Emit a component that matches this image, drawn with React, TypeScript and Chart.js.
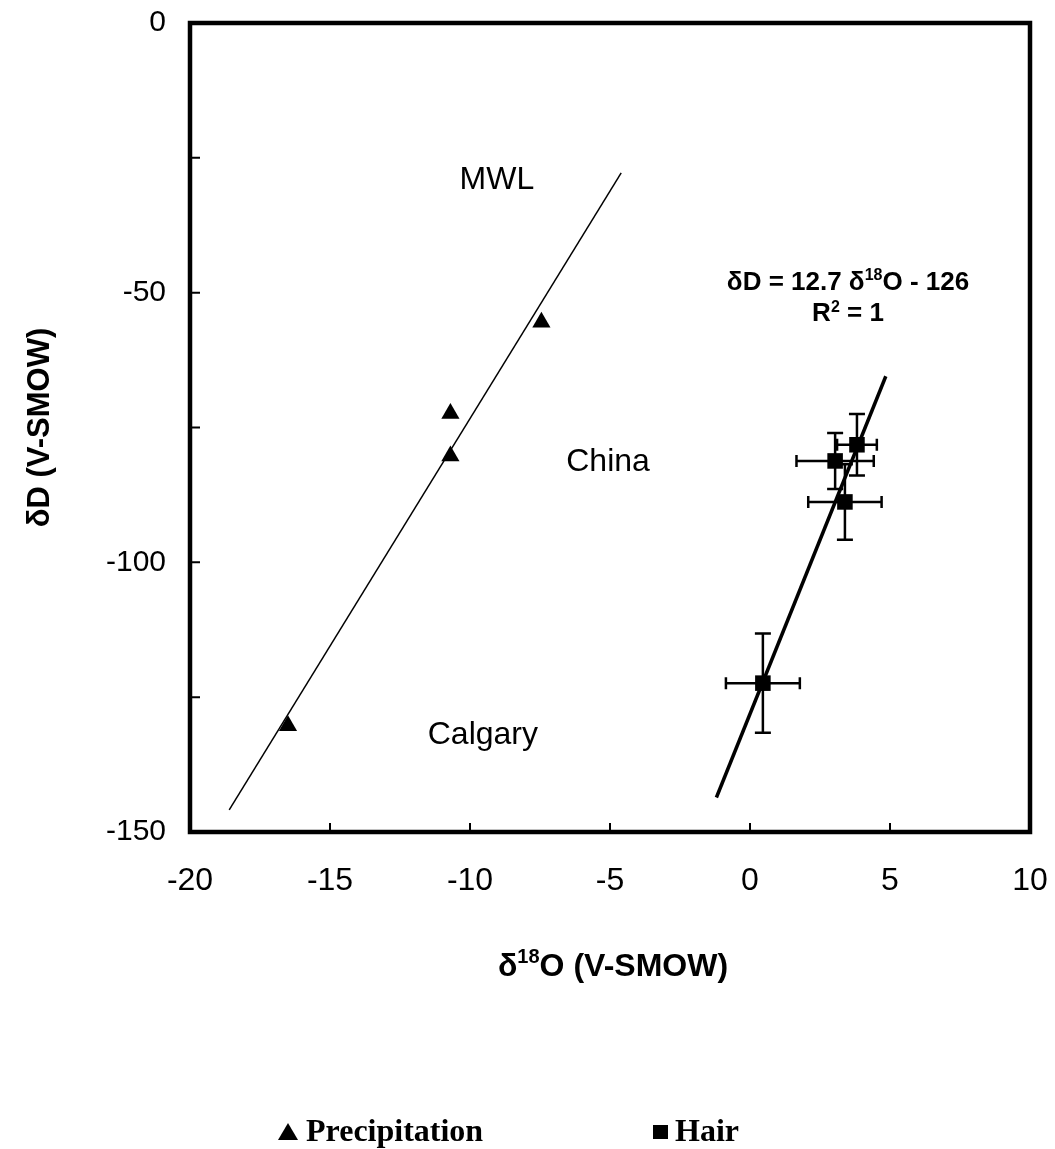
import React, { useEffect, useRef } from 'react';
import { Chart, registerables } from 'chart.js';

Chart.register(...registerables);

// ---- data ----
const precipX = [-16.5, -10.7, -10.7, -7.45];
const precipY = [-130.3, -80.3, -72.4, -55.5];

const hairX = [0.46, 3.04, 3.82, 3.39];
const hairY = [-122.4, -81.2, -78.2, -88.8];
const hairXErr = [1.32, 1.38, 0.71, 1.31];
const hairYErr = [9.2, 5.2, 5.7, 7.0];

const mwlX = [-18.6, -4.6];
const mwlY = [-145.9, -27.8];

const fitX = [-1.2, 4.85];
const fitY = [-143.6, -65.5];

const xMin = -20;
const xMax = 10;
const xStep = 5;
const yMin = -150;
const yMax = 0;
const yStep = 25;
const yLabelEvery = 50;

const seriesLabels = ['Precipitation', 'Hair'];
const yTitle = 'δD (V-SMOW)';
const xTitleParts = ['δ', '18', 'O (V-SMOW)'];
const noteTexts = ['MWL', 'China', 'Calgary'];
const noteX = [-9.04, -5.07, -9.54];
const noteY = [-29.1, -81.4, -132.0];
const eqParts = ['δD = 12.7 δ', '18', 'O - 126'];
const r2Parts = ['R', '2', ' = 1'];
const eqX = 3.5;
const eqY = [-47.7, -53.6];

const SANS = '"Liberation Sans", Arial, sans-serif';
const SERIF = '"Liberation Serif", "Times New Roman", serif';

function drawParts(ctx: CanvasRenderingContext2D, parts: string[], cx: number, cy: number, size: number, weight: string) {
  const big = `${weight} ${size}px ${SANS}`;
  const small = `${weight} ${Math.round(size * 0.62)}px ${SANS}`;
  ctx.font = big;
  const w0 = ctx.measureText(parts[0]).width;
  const w2 = ctx.measureText(parts[2]).width;
  ctx.font = small;
  const w1 = ctx.measureText(parts[1]).width;
  let x = cx - (w0 + w1 + w2) / 2;
  ctx.textBaseline = 'alphabetic';
  ctx.textAlign = 'left';
  const base = cy + size * 0.36;
  ctx.font = big;
  ctx.fillText(parts[0], x, base);
  x += w0;
  ctx.font = small;
  ctx.fillText(parts[1], x, base - size * 0.38);
  x += w1;
  ctx.font = big;
  ctx.fillText(parts[2], x, base);
}

const errorBars = {
  id: 'errorBars',
  beforeDatasetsDraw(chart: any) {
    const { ctx, scales } = chart;
    const xs = scales.x;
    const ys = scales.y;
    ctx.save();
    ctx.strokeStyle = '#000';
    for (let i = 0; i < hairX.length; i++) {
      const px = xs.getPixelForValue(hairX[i]);
      const py = ys.getPixelForValue(hairY[i]);
      const x0 = xs.getPixelForValue(hairX[i] - hairXErr[i]);
      const x1 = xs.getPixelForValue(hairX[i] + hairXErr[i]);
      const y0 = ys.getPixelForValue(hairY[i] + hairYErr[i]);
      const y1 = ys.getPixelForValue(hairY[i] - hairYErr[i]);
      ctx.lineWidth = 2.5;
      ctx.beginPath();
      ctx.moveTo(x0, py); ctx.lineTo(x1, py);
      ctx.moveTo(px, y0); ctx.lineTo(px, y1);
      ctx.stroke();
      ctx.beginPath();
      ctx.moveTo(x0, py - 6); ctx.lineTo(x0, py + 6);
      ctx.moveTo(x1, py - 6); ctx.lineTo(x1, py + 6);
      ctx.moveTo(px - 8, y0); ctx.lineTo(px + 8, y0);
      ctx.moveTo(px - 8, y1); ctx.lineTo(px + 8, y1);
      ctx.stroke();
    }
    ctx.restore();
  },
};

const overlay = {
  id: 'overlay',
  afterDraw(chart: any) {
    const { ctx, chartArea: a, scales } = chart;
    const xs = scales.x;
    const ys = scales.y;
    ctx.save();
    ctx.fillStyle = '#000';
    ctx.strokeStyle = '#000';

    // inward ticks
    ctx.lineWidth = 2;
    ctx.beginPath();
    ys.ticks.forEach((t: any) => {
      const p = ys.getPixelForValue(t.value);
      ctx.moveTo(a.left, p); ctx.lineTo(a.left + 10, p);
    });
    xs.ticks.forEach((t: any) => {
      const p = xs.getPixelForValue(t.value);
      ctx.moveTo(p, a.bottom); ctx.lineTo(p, a.bottom - 9);
    });
    ctx.stroke();

    // frame
    ctx.lineWidth = 4.5;
    ctx.strokeRect(a.left, a.top, a.right - a.left, a.bottom - a.top);

    // annotations
    ctx.textAlign = 'center';
    ctx.textBaseline = 'middle';
    ctx.font = `32px ${SANS}`;
    noteTexts.forEach((t, i) => {
      ctx.fillText(t, xs.getPixelForValue(noteX[i]), ys.getPixelForValue(noteY[i]));
    });
    drawParts(ctx, eqParts, xs.getPixelForValue(eqX), ys.getPixelForValue(eqY[0]), 26, 'bold');
    drawParts(ctx, r2Parts, xs.getPixelForValue(eqX), ys.getPixelForValue(eqY[1]), 26, 'bold');

    // x-axis title
    drawParts(ctx, xTitleParts, (a.left + a.right) / 2 + 3, 964, 32, 'bold');

    // legend
    const ly = 1132;
    ctx.beginPath();
    ctx.moveTo(288, ly - 9);
    ctx.lineTo(298, ly + 8);
    ctx.lineTo(278, ly + 8);
    ctx.closePath();
    ctx.fill();
    ctx.fillRect(653, ly - 7, 15, 14);
    ctx.font = `bold 32px ${SERIF}`;
    ctx.textAlign = 'left';
    ctx.textBaseline = 'middle';
    ctx.fillText(chart.data.datasets[0].label, 306, ly + 1);
    ctx.fillText(chart.data.datasets[1].label, 675, ly + 1);
    ctx.restore();
  },
};

export default function App() {
  const ref = useRef<HTMLCanvasElement>(null);
  useEffect(() => {
    if (!ref.current) return;
    Chart.defaults.font.family = SANS;
    Chart.defaults.color = '#000';
    const chart = new Chart(ref.current, {
      type: 'scatter',
      data: {
        datasets: [
          {
            label: seriesLabels[0],
            data: precipX.map((v, i) => ({ x: v, y: precipY[i] })),
            pointStyle: 'triangle',
            pointRadius: 10.5,
            backgroundColor: '#000',
            borderColor: '#000',
            borderWidth: 0,
          },
          {
            label: seriesLabels[1],
            data: hairX.map((v, i) => ({ x: v, y: hairY[i] })),
            pointStyle: 'rect',
            pointRadius: 11,
            backgroundColor: '#000',
            borderColor: '#000',
            borderWidth: 0,
          },
          {
            label: 'MWL',
            data: mwlX.map((v, i) => ({ x: v, y: mwlY[i] })),
            showLine: true,
            pointRadius: 0,
            borderColor: '#000',
            borderWidth: 1.5,
          },
          {
            label: 'fit',
            data: fitX.map((v, i) => ({ x: v, y: fitY[i] })),
            showLine: true,
            pointRadius: 0,
            borderColor: '#000',
            borderWidth: 3.5,
          },
        ],
      },
      options: {
        animation: false,
        responsive: false,
        layout: { padding: { top: 23, right: 25, left: 0, bottom: 0 } },
        plugins: { legend: { display: false }, tooltip: { enabled: false } },
        scales: {
          x: {
            type: 'linear',
            min: xMin,
            max: xMax,
            grid: { display: false, drawTicks: false },
            border: { display: false },
            ticks: { stepSize: xStep, padding: 30, font: { size: 32 }, color: '#000' },
            afterFit: (s: any) => {
              s.height = 1149 - 832;
              s.paddingLeft = 0;
              s.paddingRight = 0;
            },
          },
          y: {
            type: 'linear',
            min: yMin,
            max: yMax,
            grid: { display: false, drawTicks: false },
            border: { display: false },
            ticks: {
              stepSize: yStep,
              padding: 24,
              font: { size: 30 },
              color: '#000',
              callback: (v: any) => (Number(v) % yLabelEvery === 0 ? String(v) : ''),
            },
            title: {
              display: true,
              text: yTitle,
              font: { size: 31, weight: 'bold' },
              color: '#000',
              padding: { top: 22, bottom: 0 },
            },
            afterFit: (s: any) => {
              s.width = 190;
              s.paddingTop = 0;
              s.paddingBottom = 0;
            },
          },
        },
      },
      plugins: [errorBars, overlay],
    } as any);
    return () => chart.destroy();
  }, []);
  return (
    <div style={{ position: 'absolute', left: 0, top: 0, width: 1055, height: 1149, background: '#fff' }}>
      <canvas ref={ref} width={1055} height={1149} />
    </div>
  );
}
